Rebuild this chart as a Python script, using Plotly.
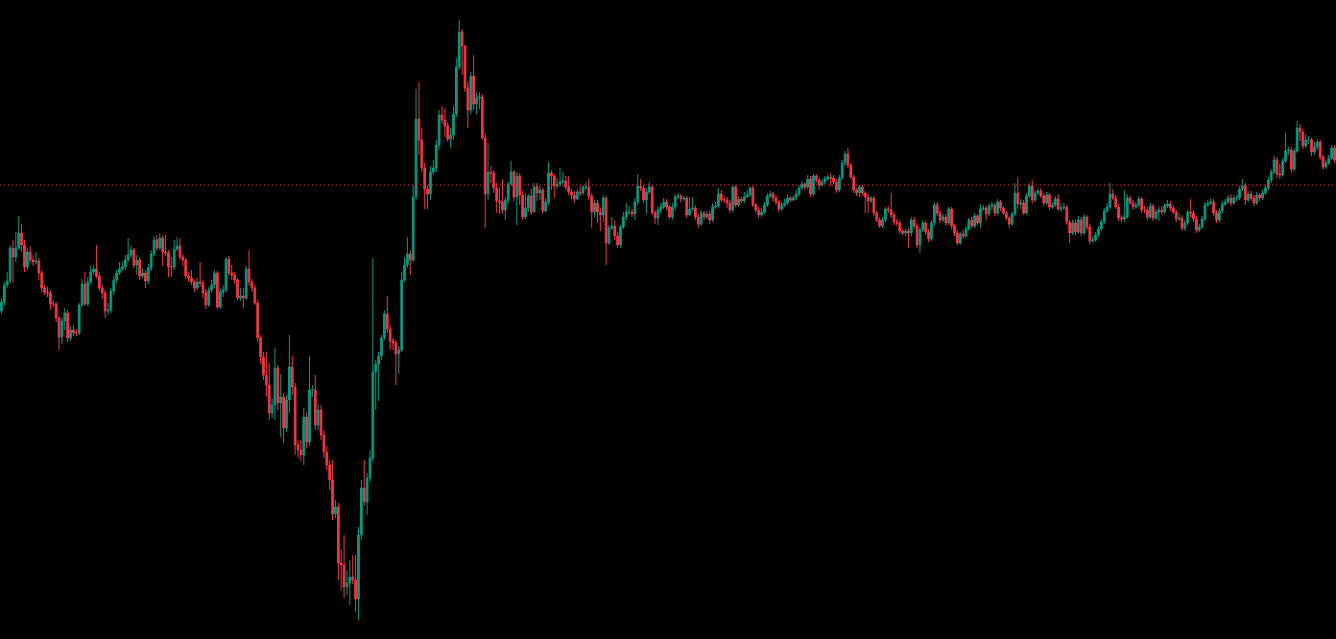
import plotly.graph_objects as go

# Price series (each bar opens at the previous bar's close)
first_open = 389
close = [398,415,419,452,443,452,467,455,433,448,440,438,439,427,412,408,407,396,396,382,
363,379,387,362,370,367,367,395,416,396,418,428,431,424,412,407,389,390,409,420,
427,431,433,440,445,450,435,440,424,427,419,432,446,460,452,462,448,447,433,433,
451,454,443,440,424,422,418,412,418,417,407,395,410,415,427,393,408,410,441,427,
425,420,402,404,402,431,418,412,397,362,343,325,315,287,295,332,297,303,272,300,333,
313,255,250,245,283,258,310,310,275,290,265,248,235,220,186,193,137,135,113,117,123,120,101,
165,212,198,222,242,328,336,344,362,386,371,359,357,346,350,420,435,446,440,503,
581,560,532,511,506,528,532,555,585,580,574,561,565,586,633,668,654,612,590,624,
596,602,603,562,506,528,527,512,499,498,490,500,516,528,503,524,505,483,492,504,
488,513,507,510,489,498,527,524,514,516,518,519,513,508,505,501,508,507,513,513,
504,488,497,488,485,502,457,472,474,464,455,473,483,488,488,486,498,514,512,500,
508,513,487,482,490,493,498,493,483,493,503,504,501,502,485,491,492,483,476,487,
483,486,480,493,494,506,500,500,497,490,513,495,501,499,503,505,512,495,490,485,
488,495,504,506,502,498,491,495,497,502,500,502,506,512,516,513,521,506,524,520,
515,518,521,523,522,518,510,522,537,546,535,523,510,507,513,507,503,499,502,487,
480,474,480,491,490,485,478,477,469,467,469,467,480,474,455,470,477,468,461,
477,495,487,480,483,477,491,474,467,457,466,464,471,480,474,484,477,491,492,
486,494,495,487,498,492,487,482,476,486,507,496,497,487,504,514,500,507,509,504,
497,505,493,495,501,491,492,493,478,467,477,468,480,467,483,473,459,460,465,471,
478,489,493,506,502,493,482,481,483,502,497,493,495,501,490,490,483,494,482,
488,490,488,494,496,492,488,481,482,472,477,488,487,481,470,473,481,495,497,498,
487,480,489,496,498,502,497,502,502,511,514,500,506,502,497,505,502,507,512,520,
528,540,526,525,539,549,550,531,549,572,568,554,560,560,548,553,558,543,533,
537,542,552,540]

high = [402,418,428,455,460,468,484,476,460,452,454,445,448,442,430,415,413,410,400,398,
384,383,392,390,374,375,371,397,421,428,423,434,435,455,428,415,410,397,412,424,
430,438,438,445,462,454,452,445,443,432,430,436,450,464,465,467,465,465,450,443,
460,463,462,446,442,428,430,421,422,438,420,411,413,420,430,429,412,415,443,444,
435,428,422,412,412,434,450,421,415,400,365,348,348,337,302,352,335,326,307,305,365,
344,317,260,260,292,288,344,315,325,296,295,270,254,240,240,200,197,150,165,130,140,145,145,
173,220,240,227,250,442,340,348,365,390,404,375,362,360,354,428,443,463,450,515,
611,618,572,537,515,534,540,560,590,594,592,578,572,594,642,680,671,655,618,628,
645,608,608,606,567,557,534,530,517,513,521,503,518,539,530,528,527,509,507,506,
511,517,517,514,512,502,538,530,526,522,532,528,524,524,511,509,511,514,515,518,
521,507,500,500,492,505,504,475,483,480,468,475,488,497,494,491,502,526,521,515,
512,518,515,490,494,497,502,501,495,497,506,507,506,504,504,503,503,495,486,490,
489,489,489,497,498,512,510,504,503,500,514,515,504,503,508,510,514,514,497,493,
492,498,507,509,508,505,500,498,501,505,504,505,510,515,519,518,525,524,526,526,
522,521,524,526,527,525,521,525,540,549,552,537,525,512,515,515,509,506,504,504,
489,483,483,493,494,507,488,481,480,471,471,472,483,483,477,473,479,479,471,
480,498,498,490,486,486,493,493,476,470,468,470,474,482,483,487,486,496,495,
494,497,498,497,501,500,494,489,484,488,517,523,501,500,507,517,520,510,512,512,
507,508,507,498,504,506,497,497,495,480,480,480,484,483,486,485,476,464,468,474,
481,492,497,517,511,505,496,485,510,506,504,500,498,504,503,494,493,497,496,
491,493,494,497,500,499,495,490,487,485,480,491,501,490,484,476,484,498,500,502,
501,490,492,499,501,505,506,505,505,514,521,517,509,509,505,508,507,510,515,523,
531,544,543,536,542,567,553,553,552,579,576,571,566,564,562,558,561,560,545,
540,545,555,555]

low = [386,394,412,417,417,438,450,448,428,430,437,434,436,420,408,405,403,390,393,378,
350,356,370,358,359,364,364,365,393,394,394,415,425,422,409,401,382,385,387,405,
417,425,429,430,438,442,432,425,420,422,412,416,429,444,449,450,434,444,423,423,
430,449,440,434,421,418,415,408,410,413,402,391,393,407,412,391,391,403,408,424,
420,416,400,399,392,400,414,408,395,358,336,320,303,280,282,280,290,263,257,268,287,
305,245,242,239,235,252,254,303,270,270,260,242,230,210,180,182,120,110,102,105,95,116,88,
80,160,194,185,218,238,290,299,340,360,367,350,350,315,326,348,418,432,425,438,
500,545,528,491,491,500,525,528,550,576,563,558,552,560,583,630,625,608,572,586,
590,586,591,560,472,500,517,507,487,486,486,480,496,514,499,475,495,480,481,488,
485,488,499,500,486,488,495,510,502,511,513,513,510,505,501,497,500,504,505,510,
500,472,483,477,469,478,435,455,470,460,452,452,471,480,485,483,480,495,509,497,
486,506,485,476,475,487,491,490,481,480,489,501,497,499,482,484,489,480,472,474,
480,481,476,478,491,492,498,497,492,487,488,493,493,497,497,502,503,493,487,482,
483,486,493,502,498,495,488,489,493,495,498,499,500,504,510,510,511,503,504,517,
510,513,516,519,514,516,507,508,520,534,532,521,507,504,503,504,487,487,497,484,
478,472,472,478,487,482,475,474,466,465,464,452,464,471,452,447,468,465,458,
459,474,484,477,478,474,475,471,464,455,455,461,462,469,472,472,475,472,489,
480,484,490,484,485,489,485,480,472,474,484,492,491,485,485,502,497,498,505,502,
494,495,490,491,493,489,488,490,475,457,465,465,466,464,465,470,456,457,458,463,
469,476,487,491,500,491,479,478,478,481,495,490,491,493,487,487,480,481,479,
480,479,485,486,492,489,486,478,479,469,469,475,482,478,467,468,471,479,493,495,
484,477,478,487,494,496,494,495,499,500,509,495,498,499,494,495,499,500,505,510,
517,526,522,521,523,537,545,528,529,547,559,551,552,556,544,545,550,540,530,
531,535,540,537]

reference_level = 515

opens = [first_open] + close[:-1]
n = len(close)
bars = list(range(n))
assert len(high) == n and len(low) == n, (len(close), len(high), len(low))
bad = [i for i in range(n) if high[i] < max(opens[i], close[i]) or low[i] > min(opens[i], close[i])]
assert not bad, bad

UP = "#089981"
DOWN = "#F23645"

fig = go.Figure(go.Candlestick(
    x=bars, open=opens, high=high, low=low, close=close,
    increasing=dict(line=dict(color=UP, width=1), fillcolor=UP),
    decreasing=dict(line=dict(color=DOWN, width=1), fillcolor=DOWN),
    whiskerwidth=0, hoverinfo="skip",
))

fig.add_shape(type="line", xref="paper", x0=0, x1=1, yref="y",
              y0=reference_level, y1=reference_level,
              line=dict(color=DOWN, width=1, dash="1px,3px"))

fig.update_layout(
    width=1336, height=639,
    margin=dict(l=0, r=0, t=0, b=0),
    paper_bgcolor="#000000", plot_bgcolor="#000000",
    showlegend=False,
    boxgap=0.15,
    xaxis=dict(visible=False, range=[-0.5, n - 0.5], rangeslider=dict(visible=False)),
    yaxis=dict(visible=False, range=[61, 700]),
)

fig.write_html(
    "out.html",
    config={"displayModeBar": False, "staticPlot": True},
    post_script="document.body.style.margin='0';document.body.style.overflow='hidden';document.body.style.background='#000';",
)
